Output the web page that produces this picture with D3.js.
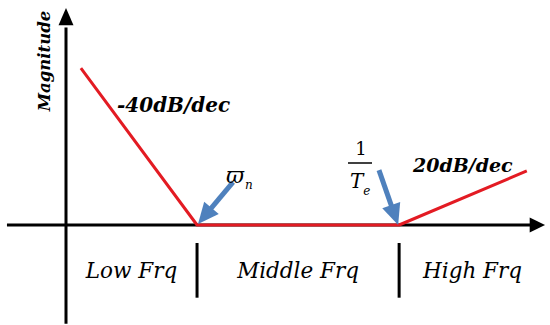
<!DOCTYPE html>
<html>
<head>
<meta charset="utf-8">
<script src="https://cdn.jsdelivr.net/npm/d3@7"></script>
<style>
  body { margin: 0; background: #fff; }
  svg { display: block; }
</style>
</head>
<body>
<div id="chart"></div>
<script>
// asymptotic magnitude curve (schematic units)
const freq = [0.31, 2.73, 6.94, 9.6];
const mag = [7.23, 0, 0, 2.49];

const slopeLabels = ["-40dB/dec", "20dB/dec"];
const bandLabels = ["Low Frq", "Middle Frq", "High Frq"];
const bandEdges = [0, 2.73, 6.94, 10];

// annotation arrows: [tailX, tailY, tipX, tipY]
const pointers = [
  [3.48, 1.98, 2.75, 0.05],
  [6.52, 2.53, 6.92, 0.0]
];

const width = 550, height = 325;

const svg = d3.select("#chart")
  .append("svg")
  .attr("width", width)
  .attr("height", height);

const x = d3.scaleLinear().domain([0, 10]).range([66, 546]);
const y = d3.scaleLinear().domain([0, 10]).range([225, 8]);

const serif = "'DejaVu Serif', 'Liberation Serif', serif";

// Axes
svg.append("line")
  .attr("x1", x(-1.23)).attr("x2", x(9.7))
  .attr("y1", y(0)).attr("y2", y(0))
  .attr("stroke", "#000").attr("stroke-width", 3);

svg.append("path")
  .attr("d", `M${x(9.66)},${y(0) - 7.5} L${x(9.98)},${y(0)} L${x(9.66)},${y(0) + 7.5} Z`)
  .attr("fill", "#000");

svg.append("line")
  .attr("x1", x(0)).attr("x2", x(0))
  .attr("y1", y(-4.55)).attr("y2", y(9.1))
  .attr("stroke", "#000").attr("stroke-width", 3);

svg.append("path")
  .attr("d", `M${x(0) - 7.5},${y(9.2)} L${x(0)},${y(10)} L${x(0) + 7.5},${y(9.2)} Z`)
  .attr("fill", "#000");

// band separators
svg.selectAll("line.sep")
  .data(bandEdges.slice(1, 3))
  .enter()
  .append("line")
  .attr("class", "sep")
  .attr("x1", d => x(d)).attr("x2", d => x(d))
  .attr("y1", y(-0.83)).attr("y2", y(-3.35))
  .attr("stroke", "#000").attr("stroke-width", 3);

// band labels
svg.selectAll("text.band")
  .data(bandLabels)
  .enter()
  .append("text")
  .attr("class", "band")
  .attr("x", (d, i) => i === 2 ? (x(bandEdges[2]) + 546) / 2 : (x(bandEdges[i]) + x(bandEdges[i + 1])) / 2)
  .attr("y", 278)
  .attr("text-anchor", "middle")
  .style("font-family", serif)
  .style("font-style", "italic")
  .style("font-size", "21.5px")
  .text(d => d);

// Magnitude line
const line = d3.line()
  .x(d => x(d[0]))
  .y(d => y(d[1]));

svg.append("path")
  .datum(d3.zip(freq, mag))
  .attr("fill", "none")
  .attr("stroke", "#e31b23")
  .attr("stroke-width", 3)
  .attr("stroke-linejoin", "round")
  .attr("d", line);

// Slope labels
svg.append("text")
  .attr("x", 117).attr("y", 112)
  .style("font-family", serif)
  .style("font-style", "italic")
  .style("font-weight", "bold")
  .style("font-size", "20px")
  .text(slopeLabels[0]);

svg.append("text")
  .attr("x", 413).attr("y", 172)
  .style("font-family", serif)
  .style("font-style", "italic")
  .style("font-weight", "bold")
  .style("font-size", "19px")
  .text(slopeLabels[1]);

// y axis title
svg.append("text")
  .attr("transform", "translate(50,61) rotate(-90)")
  .attr("text-anchor", "middle")
  .style("font-family", serif)
  .style("font-style", "italic")
  .style("font-weight", "bold")
  .style("font-size", "16.5px")
  .text("Magnitude");

// Blue pointer arrows
const blue = "#4f81bd";
pointers.forEach(p => {
  const x0 = x(p[0]), y0 = y(p[1]), x1 = x(p[2]), y1 = y(p[3]);
  const ang = Math.atan2(y1 - y0, x1 - x0);
  const headLen = 21, headW = 9.5;
  const bx = x1 - headLen * Math.cos(ang), by = y1 - headLen * Math.sin(ang);
  const nx = -Math.sin(ang), ny = Math.cos(ang);
  svg.append("line")
    .attr("x1", x0).attr("y1", y0)
    .attr("x2", bx + 2 * Math.cos(ang)).attr("y2", by + 2 * Math.sin(ang))
    .attr("stroke", blue).attr("stroke-width", 5);
  svg.append("path")
    .attr("d", `M${x1},${y1} L${bx + nx * headW},${by + ny * headW} L${bx - nx * headW},${by - ny * headW} Z`)
    .attr("fill", blue);
});

// omega_n label
const wn = svg.append("text")
  .attr("x", 226).attr("y", 183)
  .style("font-family", serif)
  .style("font-style", "italic")
  .style("font-size", "22px");
wn.append("tspan").text("ϖ");
wn.append("tspan")
  .attr("dx", 1).attr("dy", 6)
  .style("font-size", "12px")
  .text("n");

// 1/Te label
svg.append("text")
  .attr("x", 361).attr("y", 155)
  .attr("text-anchor", "middle")
  .style("font-family", serif)
  .style("font-size", "18px")
  .text("1");

svg.append("line")
  .attr("x1", 348).attr("x2", 372)
  .attr("y1", 163).attr("y2", 163)
  .attr("stroke", "#000").attr("stroke-width", 1.5);

const te = svg.append("text")
  .attr("x", 350).attr("y", 188)
  .style("font-family", serif)
  .style("font-style", "italic")
  .style("font-size", "20px");
te.append("tspan").text("T");
te.append("tspan")
  .attr("dx", 0).attr("dy", 7)
  .style("font-size", "12px")
  .text("e");
</script>
</body>
</html>
